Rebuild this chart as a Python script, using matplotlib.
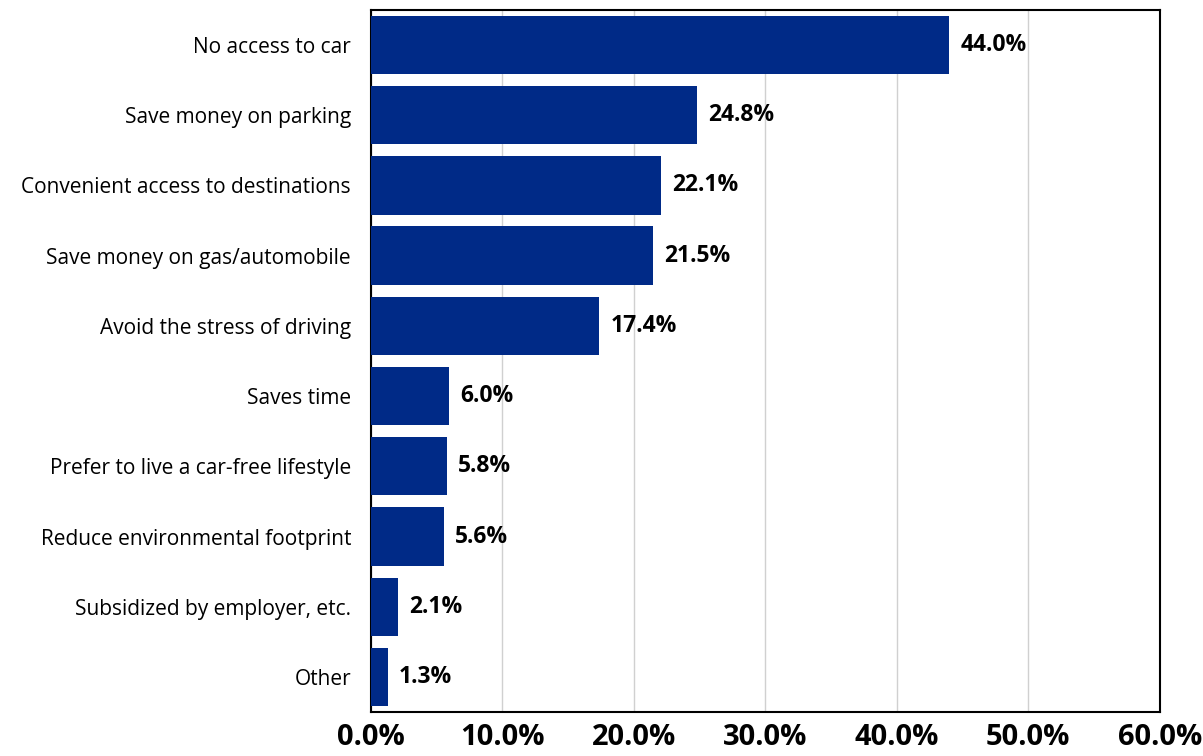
import matplotlib
matplotlib.use("Agg")
import matplotlib.pyplot as plt
import numpy as np

categories = [
    "No access to car",
    "Save money on parking",
    "Convenient access to destinations",
    "Save money on gas/automobile",
    "Avoid the stress of driving",
    "Saves time",
    "Prefer to live a car-free lifestyle",
    "Reduce environmental footprint",
    "Subsidized by employer, etc.",
    "Other",
]
values = [44.0, 24.8, 22.1, 21.5, 17.4, 6.0, 5.8, 5.6, 2.1, 1.3]
xticks = [0, 10, 20, 30, 40, 50, 60]

plt.rcParams["font.family"] = ["Open Sans", "DejaVu Sans"]

fig = plt.figure(figsize=(12.03, 7.56), dpi=100)
ax = fig.add_axes([0.308, 0.058, 0.656, 0.929])

y_pos = np.arange(len(categories))
ax.barh(y_pos, values, height=0.83, color="#002A87", zorder=3)

for y, v in zip(y_pos, values):
    ax.annotate(f"{v:.1f}%", (v, y), xytext=(8, 0), textcoords="offset points",
                va="center", ha="left", fontsize=16.5, fontweight="bold", color="black")

ax.set_xlim(0, 60)
ax.set_ylim(len(categories) - 0.5, -0.5)
ax.set_xticks(xticks)
ax.set_xticklabels([f"{t:.1f}%" for t in xticks], fontsize=21, fontweight="bold")
ax.set_yticks(y_pos)
ax.set_yticklabels(categories, fontsize=15)
ax.tick_params(axis="both", length=0)
ax.tick_params(axis="y", pad=14)
ax.tick_params(axis="x", pad=8)
ax.grid(axis="x", color="#d0d0d0", linewidth=1, zorder=0)
for s in ax.spines.values():
    s.set_color("black")
    s.set_linewidth(1.5)

fig.savefig("out.png", dpi=100)
